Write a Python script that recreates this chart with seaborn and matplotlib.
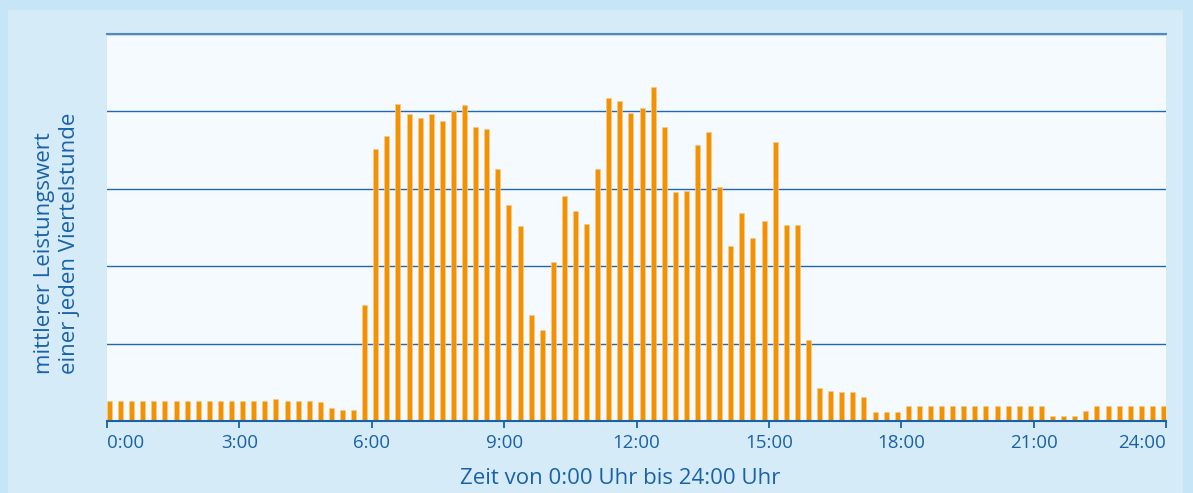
import numpy as np
import pandas as pd
import seaborn as sns
from matplotlib import pyplot as plt
from matplotlib.patches import Rectangle

# one value per quarter hour (0:00 ... 23:45)
quarters = [f"{h}:{m:02d}" for h in range(24) for m in (0, 15, 30, 45)]
load = [
    0.26, 0.26, 0.26, 0.26, 0.26, 0.26, 0.26, 0.26, 0.26, 0.26, 0.26, 0.26,
    0.26, 0.26, 0.26, 0.28, 0.26, 0.26, 0.26, 0.25, 0.17, 0.14, 0.14, 1.50,
    3.52, 3.68, 4.10, 3.96, 3.91, 3.96, 3.87, 4.00, 4.08, 3.80, 3.77, 3.25,
    2.79, 2.52, 1.37, 1.18, 2.06, 2.91, 2.71, 2.55, 3.26, 4.17, 4.14, 3.98,
    4.05, 4.31, 3.80, 2.96, 2.97, 3.56, 3.74, 3.02, 2.26, 2.69, 2.37, 2.58,
    3.61, 2.53, 2.53, 1.05, 0.42, 0.39, 0.37, 0.37, 0.31, 0.12, 0.12, 0.12,
    0.20, 0.20, 0.20, 0.20, 0.20, 0.20, 0.20, 0.20, 0.20, 0.20, 0.20, 0.20,
    0.20, 0.07, 0.07, 0.07, 0.13, 0.19, 0.19, 0.19, 0.19, 0.19, 0.19, 0.19,
]
hour_labels = ["0:00", "3:00", "6:00", "9:00", "12:00", "15:00", "18:00", "21:00", "24:00"]
grid_levels = [1, 2, 3, 4, 5]

df = pd.DataFrame({"Viertelstunde": quarters, "Leistung": load})

plt.rcParams["font.family"] = ["Open Sans", "DejaVu Sans"]
blue = "#1a62a8"
orange = "#f39200"

fig = plt.figure(figsize=(11.93, 4.93), dpi=100)
fig.patch.set_facecolor("#c6e5f6")
fig.patches.append(Rectangle((8 / 1193, 0), 1175 / 1193, 1 - 10 / 493,
                             transform=fig.transFigure, facecolor="#d5ebf8",
                             edgecolor="none", zorder=-5))

ax = fig.add_axes([107 / 1193, 1 - 421 / 493, 1059 / 1193, 387 / 493])
ax.set_zorder(2)
ax.set_facecolor("#f5faff")

bar_w = 0.45
sns.barplot(data=df, x="Viertelstunde", y="Leistung", color=orange,
            saturation=1, width=bar_w, edgecolor="#f8c98a", linewidth=0.5,
            ax=ax, zorder=3)

ax.set_xlim(-bar_w / 2, len(quarters) - 1 + bar_w / 2)
ax.set_ylim(0, 5)

# hour ticks spread evenly over the full axis width
lo, hi = ax.get_xlim()
ax.set_xticks(np.linspace(lo, hi, len(hour_labels)))
ax.set_xticklabels(hour_labels)
ax.tick_params(axis="x", direction="out", length=5, width=1.3, color=blue,
               labelcolor=blue, labelsize=13.5, pad=4)
tick_texts = ax.get_xticklabels()
tick_texts[0].set_horizontalalignment("left")
tick_texts[-1].set_horizontalalignment("right")

ax.set_yticks(grid_levels)
ax.set_yticklabels([])
ax.tick_params(axis="y", length=0)
ax.yaxis.grid(True, color="#1f68b0", linewidth=1.0, zorder=1)
ax.set_axisbelow(True)

for side in ["left", "right"]:
    ax.spines[side].set_visible(False)
ax.spines["top"].set_color("#4f88c2")
ax.spines["top"].set_linewidth(1.5)
ax.spines["bottom"].set_color(blue)
ax.spines["bottom"].set_linewidth(1.5)
ax.spines["bottom"].set_zorder(4)

ax.set_xlabel("")
ax.set_ylabel("")

fig.text(620 / 1193, 1 - 478 / 493, "Zeit von 0:00 Uhr bis 24:00 Uhr",
         ha="center", va="center", fontsize=16, color=blue)
fig.text(57 / 1193, 1 - 374 / 493,
         "mittlerer Leistungswert\neiner jeden Viertelstunde",
         rotation=90, ha="center", va="bottom", multialignment="left",
         fontsize=16, color=blue, linespacing=1.25)

fig.savefig("out.png", dpi=100, facecolor=fig.get_facecolor())
